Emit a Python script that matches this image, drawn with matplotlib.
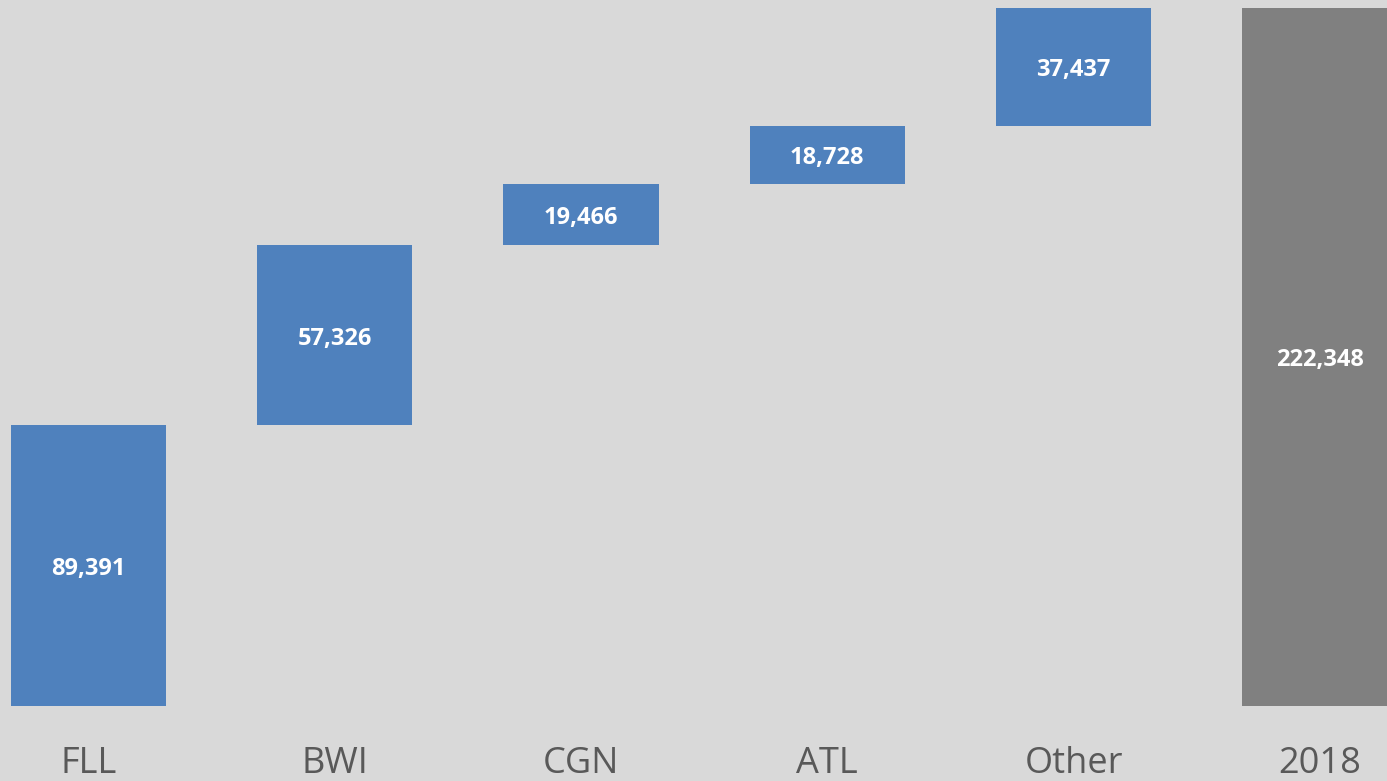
#!/usr/bin/env python3
"""Waterfall chart: contribution by airport to the 2018 total."""

import numpy as np
import matplotlib
matplotlib.use('Agg')
import matplotlib.pyplot as plt

# Data
categories = ['FLL', 'BWI', 'CGN', 'ATL', 'Other']
steps = [89391, 57326, 19466, 18728, 37437]
total_label = '2018'
total_value = 222348

bg = '#d9d9d9'
blue = '#4f81bd'
grey = '#808080'

plt.rcParams['font.family'] = ['Open Sans', 'DejaVu Sans']

fig = plt.figure(figsize=(13.87, 7.81), dpi=100, facecolor=bg)
ax = fig.add_axes([0, 75 / 781, 1, 706 / 781])
ax.set_facecolor(bg)

# Floating bars start where the previous one stopped
bottoms = np.concatenate([[0], np.cumsum(steps)[:-1]])
x = np.arange(len(categories) + 1)
width = 0.63

ax.bar(x[:-1], steps, bottom=bottoms, width=width, color=blue)
ax.bar(x[-1], total_value, width=width, color=grey)

label_kw = dict(ha='center', va='center', color='white', fontsize=17,
                fontweight='bold', textcoords='offset points', xytext=(0, -2.5))
for xi, b, v in zip(x[:-1], bottoms, steps):
    ax.annotate(f'{v:,}', (xi, b + v / 2), **label_kw)
ax.annotate(f'{total_value:,}', (x[-1], total_value / 2), **label_kw)

ax.set_xlim(-0.3594, 5.273)
ax.set_ylim(0, total_value * 706 / 698)

ax.set_xticks(x)
ax.set_xticklabels(categories + [total_label], fontsize=26, color='#595959')
ax.tick_params(axis='x', length=0, pad=29)
ax.set_yticks([])
for s in ax.spines.values():
    s.set_visible(False)

fig.savefig('out.png', dpi=100, facecolor=bg)
